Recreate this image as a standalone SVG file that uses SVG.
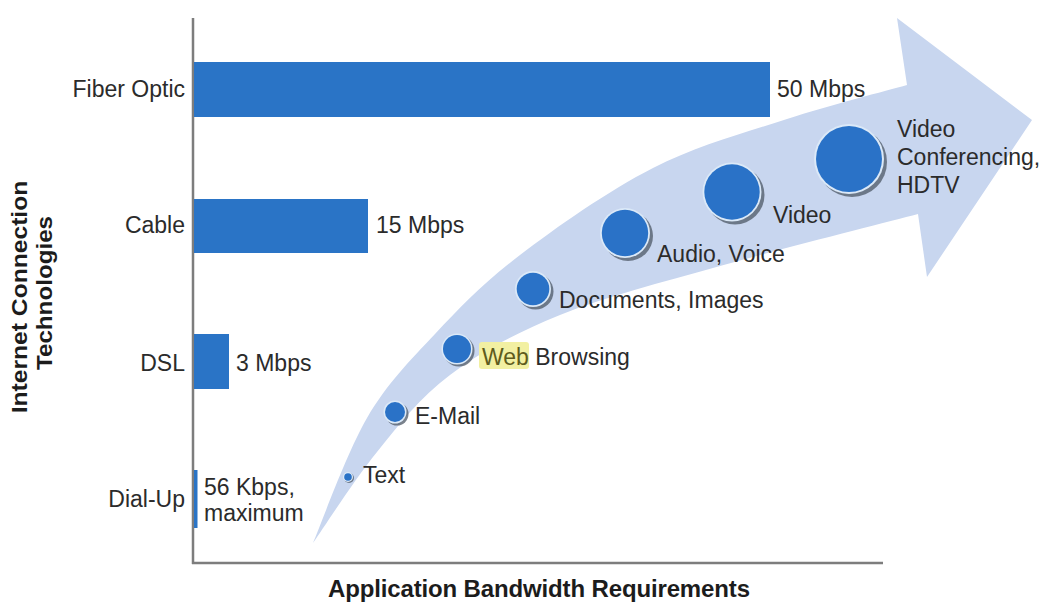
<svg xmlns="http://www.w3.org/2000/svg" width="1040" height="603" viewBox="0 0 1040 603">
<defs>
<style>
.lbl{font-family:"Liberation Sans",Arial,sans-serif;font-size:23px;fill:#2b2b2b}
.ttl{font-family:"Liberation Sans",Arial,sans-serif;font-size:24px;font-weight:bold;fill:#1c1c1c}
.ytl{font-family:"Liberation Sans",Arial,sans-serif;font-size:22px;font-weight:bold;fill:#1c1c1c}
.bar{fill:#2a74c6}
.axis{stroke:#7d7d7d;stroke-width:2.5;fill:none}
.dot{fill:#2a72c7}
.ring{fill:#dbe9f8}
.shadow{fill:#4d5866;opacity:0.75}
</style>
</defs>
<rect width="1040" height="603" fill="#ffffff"/>

<g id="arrow">
<path d="M313,543 C322,522 346.7,452.8 367,418 C387.3,383.2 409.5,361.2 435,334 C460.5,306.8 483.7,282.7 520,255 C556.3,227.3 608.5,190.7 653,168 C697.5,145.3 744.7,132.8 787,119 C829.3,105.2 887,90.7 907,85 L897,18 L1032,120 L927,277 L918,214 C885,222.7 779.7,249.2 720,266 C660.3,282.8 605,296.8 560,315 C515,333.2 480.5,352.2 450,375 C419.5,397.8 399.8,424 377,452 C354.2,480 323.7,527.8 313,543 Z" fill="#c8d6ef"/>
</g>

<g id="axes">
<line class="axis" x1="193" y1="18" x2="193" y2="564"/>
<line class="axis" x1="192" y1="563" x2="883" y2="563"/>
</g>

<g id="fiber">
<rect class="bar" x="194" y="62" width="576" height="55"/>
<text class="lbl" x="185" y="97" text-anchor="end">Fiber Optic</text>
<text class="lbl" x="777" y="97">50 Mbps</text>
</g>
<g id="cable">
<rect class="bar" x="194" y="199" width="174" height="54"/>
<text class="lbl" x="185" y="233" text-anchor="end">Cable</text>
<text class="lbl" x="376" y="233">15 Mbps</text>
</g>
<g id="dsl">
<rect class="bar" x="194" y="334" width="35" height="55"/>
<text class="lbl" x="185" y="371" text-anchor="end">DSL</text>
<text class="lbl" x="236" y="371">3 Mbps</text>
</g>
<g id="dialup">
<rect class="bar" x="194" y="470" width="3.5" height="58"/>
<text class="lbl" x="185" y="507" text-anchor="end">Dial-Up</text>
<text class="lbl" x="204" y="495">56 Kbps,</text>
<text class="lbl" x="204" y="521">maximum</text>
</g>

<g id="app-text">
<circle class="shadow" cx="349" cy="478" r="5"/>
<circle class="ring" cx="348" cy="477" r="5"/>
<circle class="dot" cx="348" cy="477" r="3.8"/>
<text class="lbl" x="363" y="483">Text</text>
</g>
<g id="app-email">
<circle class="shadow" cx="397" cy="414" r="11.5"/>
<circle class="ring" cx="395" cy="412" r="11.5"/>
<circle class="dot" cx="395" cy="412" r="10"/>
<text class="lbl" x="415" y="424">E-Mail</text>
</g>
<g id="app-web">
<circle class="shadow" cx="459" cy="351" r="15.5"/>
<circle class="ring" cx="457" cy="349" r="15.5"/>
<circle class="dot" cx="457" cy="349" r="14"/>
<rect x="479" y="342" width="50" height="27" rx="3" fill="#f2f0a2"/>
<text class="lbl" x="482" y="365"><tspan fill="#5e5c1c">Web</tspan> Browsing</text>
</g>
<g id="app-docs">
<circle class="shadow" cx="535.5" cy="291.5" r="18"/>
<circle class="ring" cx="533" cy="289" r="18"/>
<circle class="dot" cx="533" cy="289" r="16.3"/>
<text class="lbl" x="559" y="308">Documents, Images</text>
</g>
<g id="app-audio">
<circle class="shadow" cx="628" cy="236" r="25"/>
<circle class="ring" cx="625" cy="233" r="25"/>
<circle class="dot" cx="625" cy="233" r="23.2"/>
<text class="lbl" x="657" y="262">Audio, Voice</text>
</g>
<g id="app-video">
<circle class="shadow" cx="735" cy="195" r="29.5"/>
<circle class="ring" cx="732" cy="192" r="29.5"/>
<circle class="dot" cx="732" cy="192" r="27.7"/>
<text class="lbl" x="773" y="223">Video</text>
</g>
<g id="app-vc">
<circle class="shadow" cx="852" cy="162" r="35"/>
<circle class="ring" cx="849" cy="159" r="35"/>
<circle class="dot" cx="849" cy="159" r="33"/>
<text class="lbl" x="897" y="137">Video</text>
<text class="lbl" x="897" y="165">Conferencing,</text>
<text class="lbl" x="897" y="193">HDTV</text>
</g>

<g id="titles">
<text class="ttl" x="539" y="597" text-anchor="middle" textLength="422" lengthAdjust="spacing">Application Bandwidth Requirements</text>
<text class="ytl" transform="translate(27,297) rotate(-90) scale(1.12,1)" text-anchor="middle">Internet Connection</text>
<text class="ytl" transform="translate(52,293) rotate(-90) scale(1.1,1)" text-anchor="middle">Technologies</text>
</g>
</svg>
